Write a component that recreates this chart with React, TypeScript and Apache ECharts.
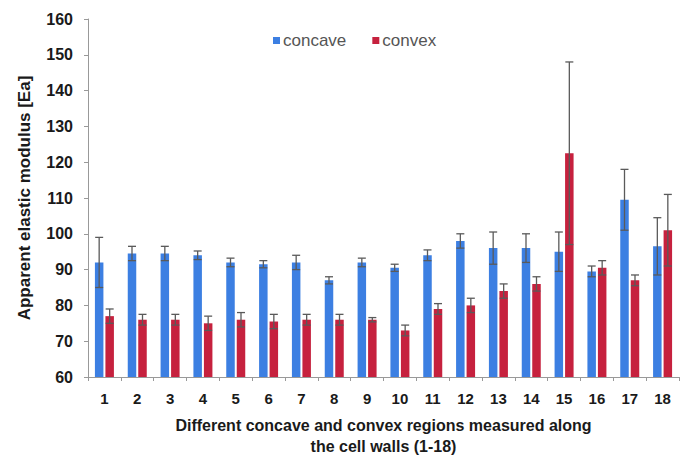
import React, { useEffect, useRef } from "react";
import * as echarts from "echarts";

const categories = ["1","2","3","4","5","6","7","8","9","10","11","12","13","14","15","16","17","18"];
const concaveMean = [92, 94.5, 94.5, 94, 92, 91.5, 92, 87, 92, 90.5, 94, 98, 96, 96, 95, 89.5, 109.5, 96.5];
const concaveErr = [7, 2, 2, 1.2, 1.2, 1, 2, 1, 1.2, 1, 1.5, 2, 4.5, 4, 5.5, 1.5, 8.5, 8];
const convexMean = [77, 76, 76, 75, 76, 75.5, 76, 76, 76, 73, 79, 80, 84, 86, 122.5, 90.5, 87, 101];
const convexErr = [2, 1.5, 1.5, 2, 2, 2, 1.5, 1.5, 0.6, 1.5, 1.5, 2, 2, 2, 25.5, 2, 1.5, 10];

const BAR_W = 8.5;
const GAP = 2;

function errData(means: number[], errs: number[]) {
  return means.map((m, i) => [i, m - errs[i], m + errs[i]]);
}

function makeRender(offset: number) {
  return (params: any, api: any) => {
    const x = api.value(0);
    const lo = api.coord([x, api.value(1)]);
    const hi = api.coord([x, api.value(2)]);
    const cx = lo[0] + offset;
    const capW = 4;
    const style = { stroke: "#5a5a5a", lineWidth: 1.3 };
    return {
      type: "group",
      children: [
        { type: "line", shape: { x1: cx, y1: lo[1], x2: cx, y2: hi[1] }, style },
        { type: "line", shape: { x1: cx - capW, y1: hi[1], x2: cx + capW, y2: hi[1] }, style },
        { type: "line", shape: { x1: cx - capW, y1: lo[1], x2: cx + capW, y2: lo[1] }, style },
      ],
    };
  };
}

export default function App() {
  const ref = useRef<HTMLDivElement>(null);
  useEffect(() => {
    if (!ref.current) return;
    const chart = echarts.init(ref.current, undefined, { renderer: "svg" });
    const font = "Liberation Sans, Arial, sans-serif";
    chart.setOption({
      animation: false,
      backgroundColor: "#fff",
      textStyle: { fontFamily: font },
      grid: { left: 88, right: 4, top: 19, bottom: 83 },
      legend: {
        left: 268,
        top: 27,
        itemWidth: 7,
        itemHeight: 7,
        itemGap: 26,
        icon: "rect",
        textStyle: { color: "#555", fontSize: 17, fontFamily: font, padding: [0, 0, 0, -2] },
        data: ["concave", "convex"],
      },
      xAxis: {
        type: "category",
        data: categories,
        name: "Different concave and convex regions measured along\nthe cell walls (1-18)",
        nameLocation: "middle",
        nameGap: 38,
        nameTextStyle: { color: "#1a1a1a", fontSize: 16, fontWeight: "bold", lineHeight: 21, fontFamily: font },
        axisLine: { lineStyle: { color: "#999" } },
        axisTick: { show: true, alignWithLabel: false, length: 4, lineStyle: { color: "#999" } },
        axisLabel: { color: "#1a1a1a", fontSize: 15, fontWeight: "bold", margin: 14, fontFamily: font },
      },
      yAxis: {
        type: "value",
        min: 60,
        max: 160,
        interval: 10,
        name: "Apparent elastic modulus [Ea]",
        nameLocation: "middle",
        nameGap: 55,
        nameTextStyle: { color: "#1a1a1a", fontSize: 17, fontWeight: "bold", fontFamily: font },
        axisLine: { show: true, lineStyle: { color: "#999" } },
        axisTick: { show: true, length: 4, lineStyle: { color: "#999" } },
        axisLabel: { color: "#1a1a1a", fontSize: 16, fontWeight: "bold", margin: 15, fontFamily: font },
        splitLine: { show: false },
      },
      series: [
        {
          name: "concave",
          type: "bar",
          data: concaveMean,
          barWidth: BAR_W,
          barGap: (GAP / BAR_W) * 100 + "%",
          itemStyle: { color: "#3c7fe2" },
        },
        {
          name: "convex",
          type: "bar",
          data: convexMean,
          barWidth: BAR_W,
          itemStyle: { color: "#c6213e" },
        },
        {
          type: "custom",
          data: errData(concaveMean, concaveErr),
          renderItem: makeRender(-(BAR_W + GAP) / 2),
          encode: { x: 0, y: [1, 2] },
          z: 5,
        },
        {
          type: "custom",
          data: errData(convexMean, convexErr),
          renderItem: makeRender((BAR_W + GAP) / 2),
          encode: { x: 0, y: [1, 2] },
          z: 5,
        },
      ],
    });
    return () => chart.dispose();
  }, []);
  return <div ref={ref} style={{ width: 683, height: 462, position: "absolute", left: 0, top: 0 }} />;
}
